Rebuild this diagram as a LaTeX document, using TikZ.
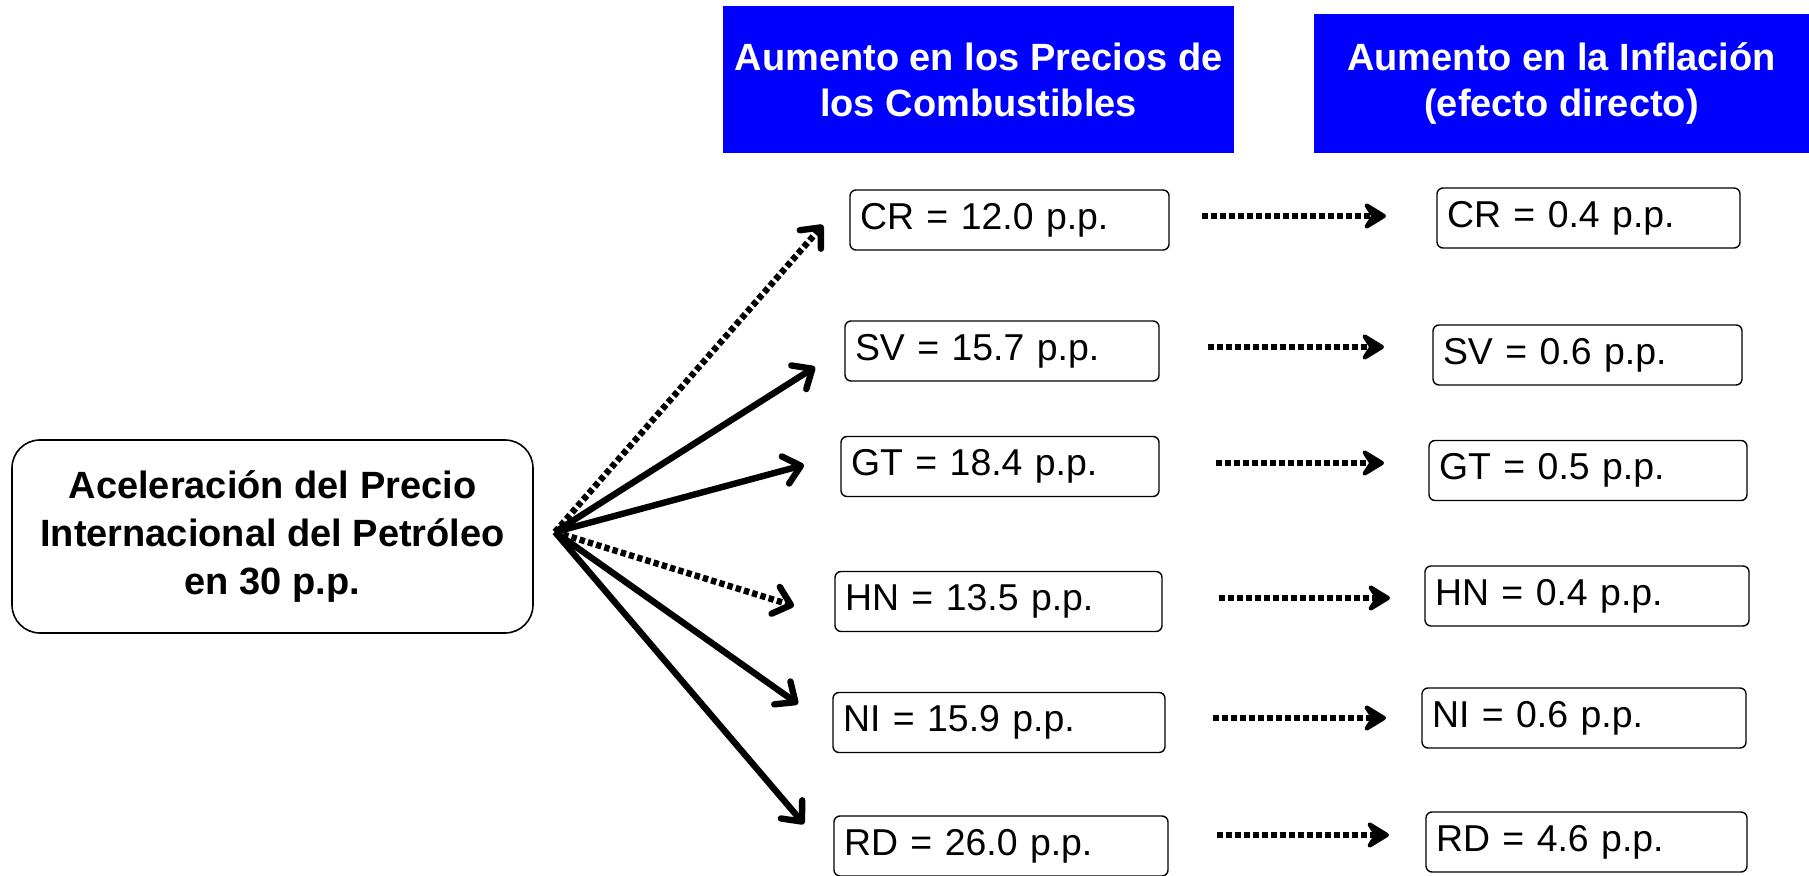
\documentclass[tikz,border=0pt]{standalone}
\usepackage{fontspec}
\setmainfont{Liberation Sans}
\usetikzlibrary{arrows.meta}
\definecolor{hblue}{RGB}{0,0,255}
\begin{document}
\begin{tikzpicture}[x=0.5pt,y=-0.5pt,
  valbox/.style={draw, line width=0.7pt, rounded corners=3pt, inner xsep=5pt, inner ysep=0pt,
    minimum height=30pt, align=left, font=\fontsize{18.7}{23}\selectfont},
  header/.style={fill=hblue, text=white, font=\bfseries\fontsize{19}{23}\selectfont,
    align=center, inner sep=0pt},
  mainbox/.style={draw, line width=0.8pt, rounded corners=14pt, align=center,
    font=\bfseries\fontsize{19}{24}\selectfont, inner sep=0pt},
  fan/.style={line width=3.2pt, -{Straight Barb[length=8pt,width=14pt,line cap=round,line join=round]}},
  fandot/.style={fan, dash pattern=on 2.7pt off 1.6pt},
  harrow/.style={line width=2.8pt, dash pattern=on 3pt off 1.5pt,
    -{Stealth[length=14pt,width=17pt,inset=5.5pt,round]}}
]
\useasboundingbox (0,0) rectangle (1809,876);

% headers
\node[header, minimum width=255.5pt, minimum height=73.5pt] (h1) at (978.5,79.5)
  {Aumento en los Precios de\\los Combustibles};
\node[header, minimum width=247.5pt, minimum height=69.5pt] (h2) at (1561.5,83.5)
  {Aumento en la Inflación\\(efecto directo)};

% main box
\node[mainbox, minimum width=260.5pt, minimum height=96.5pt] (m) at (272.5,536.5)
  {Aceleración del Precio\\Internacional del Petróleo\\en 30 p.p.};

% middle column
\node[valbox, text width=149.5pt] (cr1) at (1009.5,220) {CR = 12.0 p.p.};
\node[valbox, text width=147pt]   (sv1) at (1002,351)   {SV = 15.7 p.p.};
\node[valbox, text width=149pt]   (gt1) at (1000,466.5) {GT = 18.4 p.p.};
\node[valbox, text width=153.5pt] (hn1) at (998.5,601.5){HN = 13.5 p.p.};
\node[valbox, text width=156pt]   (ni1) at (999,722.5)  {NI = 15.9 p.p.};
\node[valbox, text width=157pt]   (rd1) at (1001,846)   {RD = 26.0 p.p.};

% right column
\node[valbox, text width=141.5pt] (cr2) at (1588.5,218) {CR = 0.4 p.p.};
\node[valbox, text width=144.5pt] (sv2) at (1587.5,355) {SV = 0.6 p.p.};
\node[valbox, text width=149pt]   (gt2) at (1588,470.5) {GT = 0.5 p.p.};
\node[valbox, text width=152pt]   (hn2) at (1587,596)   {HN = 0.4 p.p.};
\node[valbox, text width=152pt]   (ni2) at (1584,718)   {NI = 0.6 p.p.};
\node[valbox, text width=150.5pt] (rd2) at (1586.5,842) {RD = 4.6 p.p.};

% fan arrows
\coordinate (o) at (555,532);
\coordinate (tcr) at (823,225);
\coordinate (tsv) at (815,367);
\coordinate (tgt) at (804,465);
\coordinate (thn) at (794,606);
\coordinate (tni) at (798,704);
\coordinate (trd) at (804,824);
\draw[fandot] (o) -- (tcr);
\draw[fan] (o) -- (tsv);
\draw[fan] (o) -- (tgt);
\draw[fandot] (o) -- (thn);
\draw[fan] (o) -- (tni);
\draw[fan] (o) -- (trd);

% horizontal arrows
\coordinate (acr) at (1202,216); \coordinate (bcr) at (1386,216);
\coordinate (asv) at (1208,347); \coordinate (bsv) at (1384,347);
\coordinate (agt) at (1216,463); \coordinate (bgt) at (1384,463);
\coordinate (ahn) at (1219,598); \coordinate (bhn) at (1390,598);
\coordinate (ani) at (1213,718); \coordinate (bni) at (1386,718);
\coordinate (ard) at (1217,835); \coordinate (brd) at (1389,835);
\draw[harrow] (acr) -- (bcr);
\draw[harrow] (asv) -- (bsv);
\draw[harrow] (agt) -- (bgt);
\draw[harrow] (ahn) -- (bhn);
\draw[harrow] (ani) -- (bni);
\draw[harrow] (ard) -- (brd);
\end{tikzpicture}
\end{document}
